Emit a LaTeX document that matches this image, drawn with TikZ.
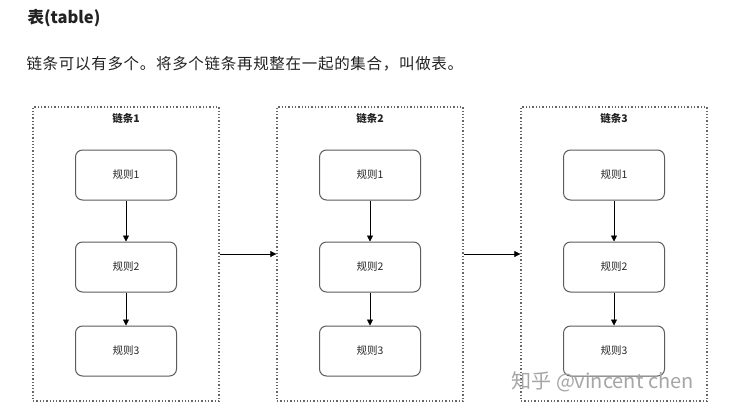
\documentclass[tikz,border=0pt]{standalone}
\usepackage{fontspec}
\usepackage{xcolor}
\setmainfont{Noto Sans CJK SC}
\usetikzlibrary{arrows.meta}
\definecolor{RuleLine}{HTML}{5C5C5C}
\definecolor{ChainLine}{HTML}{666666}
\definecolor{InkText}{HTML}{222222}

\begin{document}
\begin{tikzpicture}[x=1pt, y=-1pt,
    chain/.style={draw=ChainLine, dash pattern=on 1.3pt off 2pt, line width=1.3pt, minimum width=186pt, minimum height=294pt, inner sep=0pt},
    rulebox/.style={draw=RuleLine, rounded corners=7pt, line width=1pt, minimum width=101pt, minimum height=50pt, text=black!85, font=\fontsize{10.5}{12}\selectfont},
    flow/.style={-{Triangle[length=6pt,width=6pt]}, line width=0.7pt}]
    \useasboundingbox[fill=white] (0,0) rectangle (743,412);
    % heading and intro line
    \node[anchor=west, text=InkText, font=\bfseries\fontsize{16.5}{19}\selectfont] (title) at (24,18) {表(table)};
    \node[anchor=west, text=InkText, font=\fontsize{15.5}{18}\selectfont\addfontfeatures{LetterSpace=4.5}] (intro) at (23,64) {链条可以有多个。将多个链条再规整在一起的集合，叫做表。};
    % three chains, three rules each
    \foreach \i/\x in {1/126,2/370,3/614}{
      \node[chain] (chain\i) at (\x,254) {};
      \node[text=InkText, font=\bfseries\fontsize{10.5}{12}\selectfont] (label\i) at (\x,119) {链条\i};
      \node[rulebox] (r\i1) at (\x,175) {规则1};
      \node[rulebox] (r\i2) at (\x,267) {规则2};
      \node[rulebox] (r\i3) at (\x,351) {规则3};
      \draw[flow] (r\i1) -- (r\i2);
      \draw[flow] (r\i2) -- (r\i3);
    }
    % chain to chain
    \draw[flow] (chain1) -- (chain2);
    \draw[flow] (chain2) -- (chain3);
    % watermark
    \node[anchor=west, text=black!35, font=\fontsize{20}{24}\selectfont] (mark) at (508,382) {知乎 @vincent chen};
\end{tikzpicture}
\end{document}
